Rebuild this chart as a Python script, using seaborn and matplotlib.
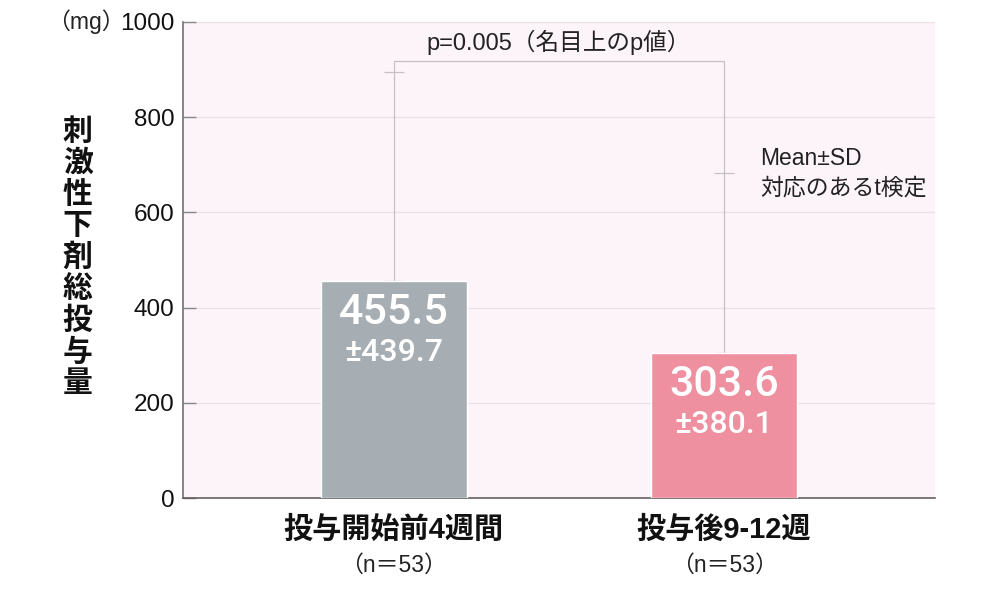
import matplotlib
matplotlib.use("Agg")
import matplotlib.pyplot as plt
import matplotlib.transforms as mtransforms
import seaborn as sns

# data
categories = ["投与開始前4週間", "投与後9-12週"]
n_labels = ["（n＝53）", "（n＝53）"]
means = [455.5, 303.6]
sds = [439.7, 380.1]
bar_colors = ["#A7AEB3", "#EE909F"]
p_text = "p=0.005（名目上のp値）"
note_lines = ["Mean±SD", "対応のあるt検定"]
ylabel = "刺激性下剤総投与量"
yticks = [0, 200, 400, 600, 800, 1000]

sns.set_theme(style="ticks")
plt.rcParams["font.family"] = ["Liberation Sans", "Noto Sans CJK JP", "DejaVu Sans"]

fig = plt.figure(figsize=(10.01, 5.96), dpi=100)
ax = fig.add_axes([0.1828, 0.1644, 0.7512, 0.7987])
ax.set_facecolor("#FDF4F9")

sns.barplot(x=categories, y=means, hue=categories, palette=bar_colors,
            legend=False, width=0.442, saturation=1, ax=ax, zorder=3)

# upper-only SD error bars
xs = list(range(len(categories)))
ax.errorbar(xs, means, yerr=[[0] * len(sds), sds], fmt="none",
            ecolor="#C4C0C3", elinewidth=0.9, capsize=7, capthick=0.9, zorder=2)

# significance bracket
tops = [m + s for m, s in zip(means, sds)]
br_y = 918
ax.plot([xs[0], xs[0], xs[1], xs[1]], [tops[0], br_y, br_y, tops[1]],
        color="#C4C0C3", lw=0.9, zorder=2)
ax.text(0.5, 958, p_text, ha="center", va="center", fontsize=17, color="#222")

ax.text(1.11, 714, note_lines[0], ha="left", va="center", fontsize=16.5, color="#222")
ax.text(1.11, 651, note_lines[1], ha="left", va="center", fontsize=16.5, color="#222")

# values inside bars
num_font = ["Roboto", "Liberation Sans", "DejaVu Sans"]
for x, m, s in zip(xs, means, sds):
    ax.text(x, m - 65, f"{m:.1f}", ha="center", va="center", fontsize=31,
            color="white", fontweight="medium", family=num_font)
    ax.text(x, m - 150, f"±{s:.1f}", ha="center", va="center", fontsize=23,
            color="white", fontweight="medium", family=num_font)

ax.set_ylim(0, 1000)
ax.set_xlim(-0.639, 1.639)
ax.set_yticks(yticks)
ax.set_yticklabels([str(t) for t in yticks], fontsize=17.5, color="#111")
ax.yaxis.grid(True, color="#E9E1E6", lw=0.9, zorder=0)
ax.set_axisbelow(True)
ax.tick_params(axis="y", direction="in", length=9, width=1, color="#888", pad=6)
ax.tick_params(axis="x", length=0, pad=13)
ax.set_xticks(xs)
ax.set_xticklabels(categories, fontsize=21, fontweight="bold", color="#111")

for side in ["top", "right"]:
    ax.spines[side].set_visible(False)
ax.spines["left"].set_color("#666")
ax.spines["bottom"].set_color("#555")
ax.spines["left"].set_linewidth(1.1)
ax.spines["bottom"].set_linewidth(1.1)

trans = mtransforms.blended_transform_factory(ax.transData, ax.transAxes)
for x, lab in zip(xs, n_labels):
    ax.text(x, -0.141, lab, transform=trans, ha="center", va="center",
            fontsize=16.5, color="#222")

ax.set_ylabel("")
ax.text(-0.078, 1.0, "（mg）", transform=ax.transAxes, ha="right", va="center",
        fontsize=16.5, color="#222")
ax.text(-0.14, 0.504, "\n".join(ylabel), transform=ax.transAxes, ha="center",
        va="center", fontsize=21.5, fontweight="bold", linespacing=1.15, color="#111")

fig.savefig("out.png", dpi=100)
